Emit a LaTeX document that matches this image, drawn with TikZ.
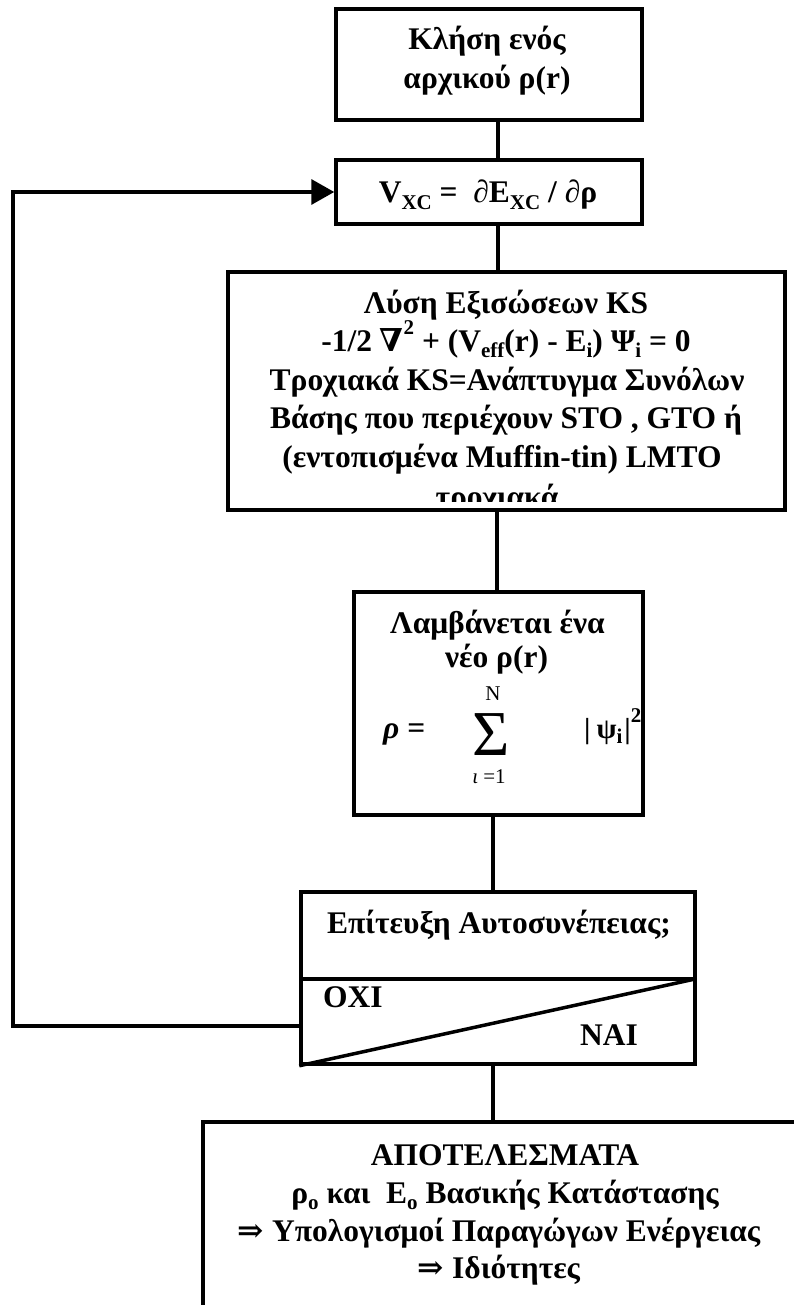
\documentclass[tikz,border=0pt]{standalone}
\usepackage{fontspec}
\usepackage{graphicx}
\setmainfont{Liberation Serif}
\newfontfamily\symfont{DejaVu Serif}
\usetikzlibrary{arrows.meta}

% lowered / raised indices set in bold at a smaller size
\newcommand\dn[1]{\raisebox{-0.2em}{\fontsize{21}{21}\selectfont #1}}
\newcommand\up[1]{\raisebox{0.55em}{\fontsize{21}{21}\selectfont #1}}

\tikzset{
  box/.style={draw, line width=3.5pt, inner sep=0pt},
  wire/.style={line width=3.5pt},
  txt/.style={font=\fontsize{31.5}{34}\selectfont\bfseries, inner sep=0pt, anchor=base},
  small/.style={font=\fontsize{21}{21}\selectfont, inner sep=0pt, anchor=base},
}

\begin{document}
\begin{tikzpicture}[x=1pt,y=-1pt]
\useasboundingbox (0,0) rectangle (794,1305);
\clip (0,0) rectangle (794,1305);

% ---------- boxes ----------
\node[box, minimum width=306pt, minimum height=111pt] (b1) at (489,64.5) {};
\node[box, minimum width=306pt, minimum height=64pt]  (b2) at (489,192) {};
\node[box, minimum width=557pt, minimum height=238pt] (b3) at (506.5,391) {};
\node[box, minimum width=289pt, minimum height=223pt] (b4) at (498.5,703.5) {};
\node[box, minimum width=394pt, minimum height=172pt] (dec) at (498,978) {};
\node[box, minimum width=627pt, minimum height=220pt] (res) at (516.5,1232) {};

% decision box: divider and diagonal
\coordinate (divL) at (301,979);
\coordinate (divR) at (695,979);
\draw[wire] (divL) -- (divR);
\draw[wire] (dec.south west) -- (divR);

% ---------- connectors ----------
\draw[wire] ([xshift=9pt]b1.south) -- ([xshift=9pt]b2.north);
\draw[wire] ([xshift=9pt]b2.south) -- ([xshift=-8.5pt]b3.north);
\draw[wire] ([xshift=-9.5pt]b3.south) -- ([xshift=-1.5pt]b4.north);
\draw[wire] ([xshift=-5.5pt]b4.south) -- ([xshift=-5pt]dec.north);
\draw[wire] ([xshift=-5pt]dec.south) -- ([xshift=-5pt]dec.south |- res.north);

% feedback loop back to the exchange-correlation potential
\coordinate (fb) at (13,1026);
\draw[wire, -{Triangle[length=23pt,width=25pt]}] ([yshift=-48pt]dec.west) -- (fb) |- (b2.west);

% ---------- texts ----------
\node[txt] (t1a) at (487,50) {Κλήση ενός};
\node[txt] (t1b) at (487,89) {αρχικού ρ(r)};

\node[txt] (t2) at (488,203) {V\dn{XC} =\ \ ∂E\dn{XC} / ∂ρ};

\node[txt] (t3a) at (506,313) {Λύση Εξισώσεων KS};
\node[txt] (t3b) at (506,351.5) {-1/2 {\symfont\bfseries ∇}\up{2} + (V\dn{eff}(r) - E\dn{i}) Ψ\dn{i} = 0};
\node[txt] (t3c) at (507,390) {Τροχιακά KS=Ανάπτυγμα Συνόλων};
\node[txt] (t3d) at (506,428.5) {Βάσης που περιέχουν STO , GTO ή};
\node[txt] (t3e) at (502,467) {(εντοπισμένα Muffin-tin) LMTO};
\begin{scope}
  \clip (228,440) rectangle (785,501);
  \node[txt] (t3f) at (497,507) {τροχιακά};
\end{scope}

\node[txt] (t4a) at (497.5,633) {Λαμβάνεται ένα};
\node[txt] (t4b) at (496.5,667) {νέο ρ(r)};
\node[txt, anchor=base west] (rho) at (383,738) {\textit{ρ} =};
\node[inner sep=0pt, anchor=base, text height=44pt, text depth=0pt,
      font=\fontsize{64}{64}\selectfont] (sum) at (491,755) {Σ};
\node[small] (supN) at (493,700) {N};
\node[small] (subi) at (489,783) {\textit{ι} =1};
\node[txt, anchor=base west, font=\fontsize{29}{29}\selectfont\bfseries] (psi) at (584,738)
  {|\hspace{6pt}ψ\dn{i}\hspace{2pt}|\up{2}};

\node[txt] (t5) at (499,933) {Επίτευξη Αυτοσυνέπειας;};
\node[txt, anchor=base west] (no) at (323,1007) {ΟΧΙ};
\node[txt, anchor=base west] (yes) at (580,1045) {ΝΑΙ};

\node[txt] (r1) at (505,1165) {ΑΠΟΤΕΛΕΣΜΑΤΑ};
\node[txt] (r2) at (505,1203) {ρ\dn{o} και\ \ E\dn{o} Βασικής Κατάστασης};
\node[txt] (r3) at (499,1241) {{\symfont ⇒} Υπολογισμοί Παραγώγων Ενέργειας};
\node[txt] (r4) at (499,1278) {{\symfont ⇒} Ιδιότητες};
\end{tikzpicture}
\end{document}
